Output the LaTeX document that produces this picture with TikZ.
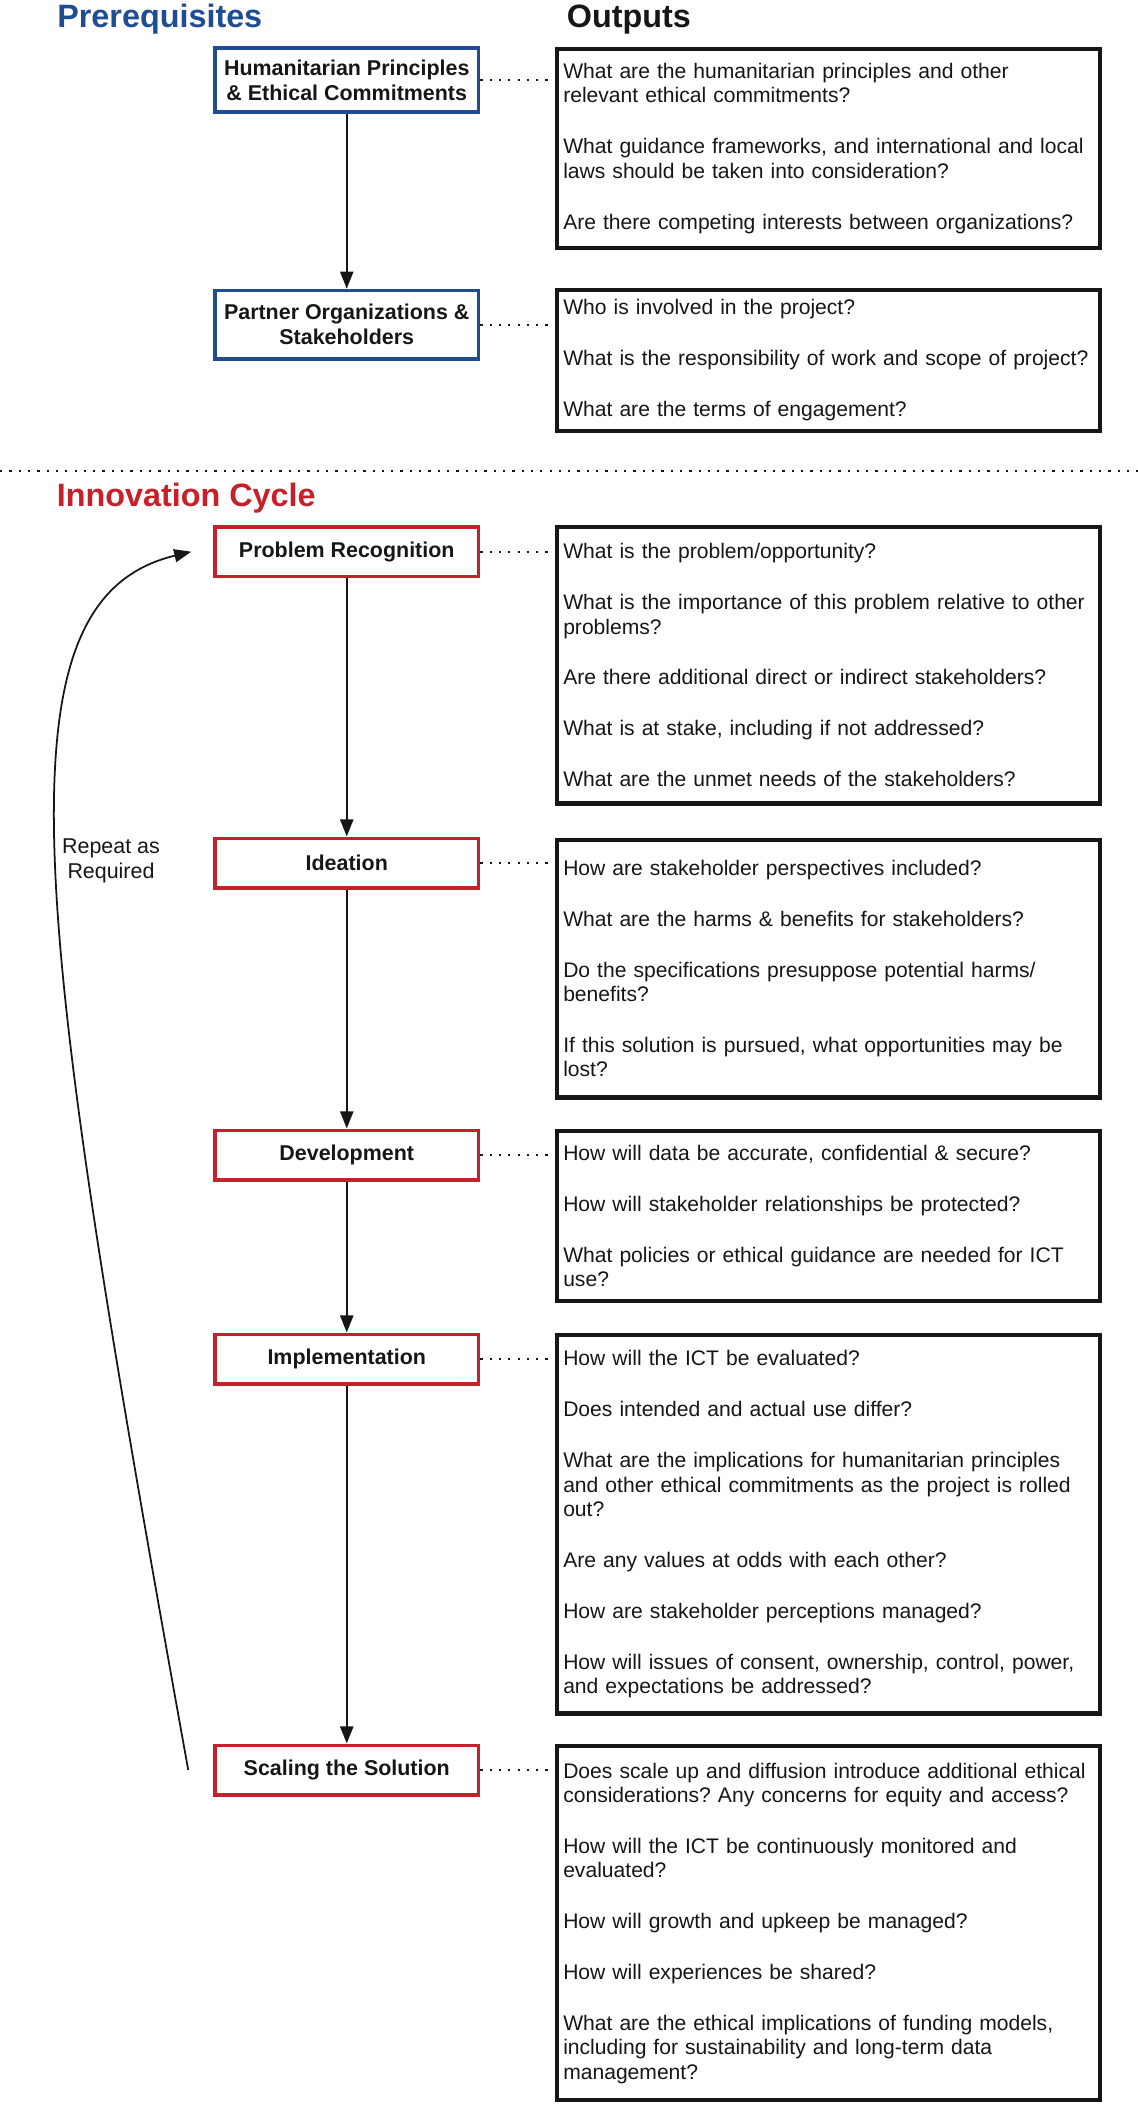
\documentclass[tikz,border=0pt]{standalone}
\usepackage{fontspec}
\setmainfont{Liberation Sans}
\usetikzlibrary{arrows.meta}
\definecolor{prereqblue}{RGB}{30,77,145}
\definecolor{cyclered}{RGB}{200,32,42}
\definecolor{inkblack}{RGB}{22,22,22}
\newcommand{\qgap}{\\[15.2pt]}
\frenchspacing

\begin{document}
\begin{tikzpicture}[
  labelbox/.style={draw, line width=2pt, minimum width=5.27cm, align=center,
    font=\fontsize{12.2pt}{14.3pt}\selectfont\bfseries, text=inkblack},
  prereqbox/.style={labelbox, draw=prereqblue},
  stagebox/.style={labelbox, draw=cyclered, minimum height=0.99cm},
  outbox/.style={draw=inkblack, line width=2.4pt, anchor=north west, text width=10.62cm,
    inner xsep=0.119cm, align=left, font=\fontsize{12pt}{13.8pt}\selectfont, text=inkblack},
  heading/.style={anchor=base west, inner sep=0pt, font=\fontsize{18.4pt}{22pt}\selectfont\bfseries},
  link/.style={draw=inkblack, line width=1.3pt, dash pattern=on 1.3pt off 4pt},
  flow/.style={draw=inkblack, line width=1.3pt, -{Triangle[length=9.7pt,width=7.4pt]}}
]
\useasboundingbox (0,0) rectangle (22.76,-42.08);

% Headings
\node[heading, text=prereqblue] (prereqtitle) at (1.14,-0.54) {Prerequisites};
\node[heading, text=inkblack] (outtitle) at (11.33,-0.54) {Outputs};
\node[heading, text=cyclered] (cycletitle) at (1.13,-10.12) {Innovation Cycle};
\draw[link] (0,-9.414) -- (22.76,-9.414);

% Prerequisites
\node[prereqbox, minimum height=1.28cm] (principles) at (6.935,-1.604) {Humanitarian Principles\\\& Ethical Commitments};
\node[prereqbox, minimum height=1.37cm] (partners) at (6.935,-6.494) {Partner Organizations \&\\Stakeholders};

% Innovation cycle stages
\node[stagebox] (prob) at (6.935,-11.034) {Problem Recognition};
\node[stagebox] (idea) at (6.935,-17.26) {Ideation};
\node[stagebox] (dev) at (6.935,-23.10) {Development};
\node[stagebox] (impl) at (6.935,-27.18) {Implementation};
\node[stagebox] (scale) at (6.935,-35.40) {Scaling the Solution};

% Outputs
\node[outbox, minimum height=3.984cm] (principlesq) at (11.104,-0.934) {What are the humanitarian principles and other\\relevant ethical commitments?\qgap What guidance frameworks, and international and local\\laws should be taken into consideration?\qgap Are there competing interests between organizations?};
\node[outbox, minimum height=2.822cm] (partnersq) at (11.104,-5.756) {Who is involved in the project?\qgap What is the responsibility of work and scope of project?\qgap What are the terms of engagement?};
\node[outbox, minimum height=5.528cm] (probq) at (11.104,-10.50) {What is the problem/opportunity?\qgap What is the importance of this problem relative to other\\problems?\qgap Are there additional direct or indirect stakeholders?\qgap What is at stake, including if not addressed?\qgap What are the unmet needs of the stakeholders?};
\node[outbox, minimum height=5.158cm] (ideaq) at (11.104,-16.75) {How are stakeholder perspectives included?\qgap What are the harms \& benefits for stakeholders?\qgap Do the specifications presuppose potential harms/\\benefits?\qgap If this solution is pursued, what opportunities may be\\lost?};
\node[outbox, minimum height=3.41cm] (devq) at (11.104,-22.574) {How will data be accurate, confidential \& secure?\qgap How will stakeholder relationships be protected?\qgap What policies or ethical guidance are needed for ICT\\use?};
\node[outbox, minimum height=7.574cm] (implq) at (11.104,-26.654) {How will the ICT be evaluated?\qgap Does intended and actual use differ?\qgap What are the implications for humanitarian principles\\and other ethical commitments as the project is rolled\\out?\qgap Are any values at odds with each other?\qgap How are stakeholder perceptions managed?\qgap How will issues of consent, ownership, control, power,\\and expectations be addressed?};
\node[outbox, minimum height=7.082cm] (scaleq) at (11.104,-34.88) {Does scale up and diffusion introduce additional ethical\\considerations? Any concerns for equity and access?\qgap How will the ICT be continuously monitored and\\evaluated?\qgap How will growth and upkeep be managed?\qgap How will experiences be shared?\qgap What are the ethical implications of funding models,\\including for sustainability and long-term data\\management?};

% Dotted links to outputs
\foreach \s in {principles,partners,prob,idea,dev,impl,scale}
  \draw[link] (\s.east) -- (\s.east -| \s q.west);

% Flow arrows
\draw[flow] (principles.south) -- (partners.north);
\draw[flow] (prob.south) -- (idea.north);
\draw[flow] (idea.south) -- (dev.north);
\draw[flow] (dev.south) -- (impl.north);
\draw[flow] (impl.south) -- (scale.north);

% Repeat loop
\node[font=\fontsize{12.2pt}{14.2pt}\selectfont, align=center, text=inkblack] (repeat) at (2.22,-17.22) {Repeat as\\Required};
\coordinate (loopstart) at ([xshift=-0.5cm]scale.west);
\coordinate (loopend) at ([xshift=-0.44cm]prob.west);
\draw[draw=inkblack, line width=1pt, -{Triangle[length=9.7pt,width=7.4pt]}] (loopstart) .. controls (0.70,-18.40) and (-0.20,-12.00) .. (loopend);
\end{tikzpicture}
\end{document}
